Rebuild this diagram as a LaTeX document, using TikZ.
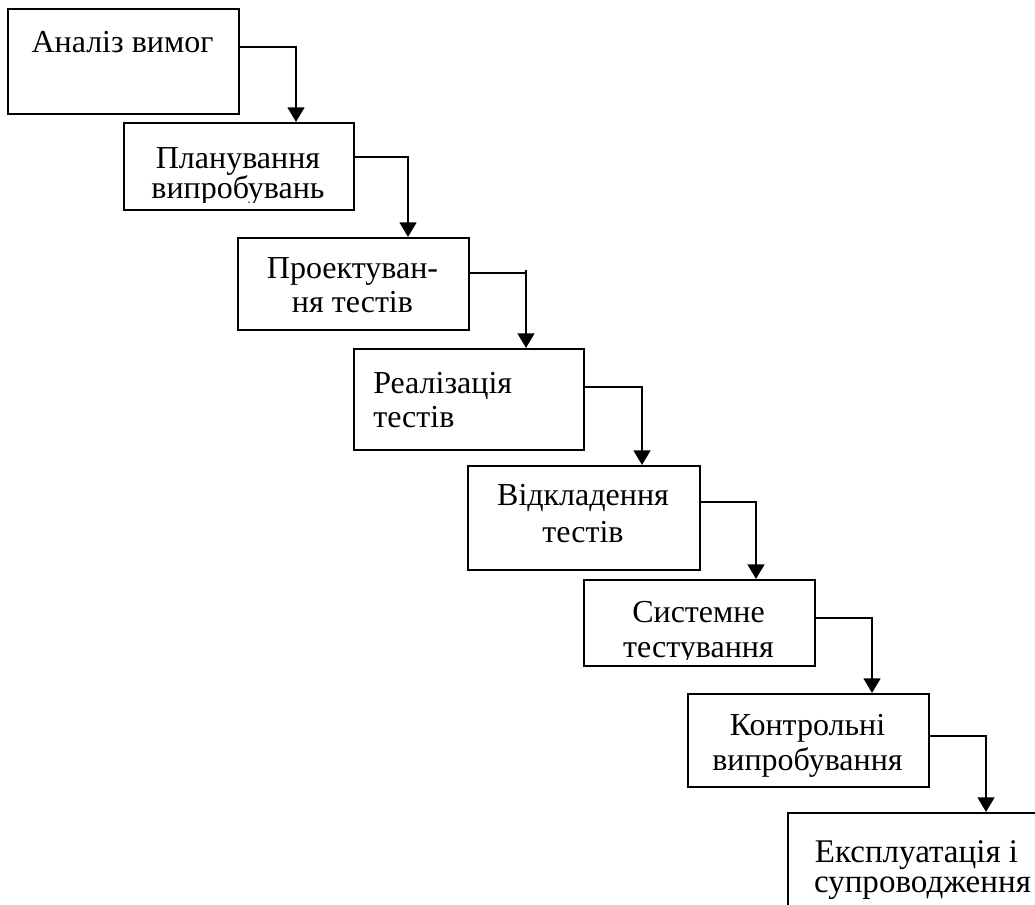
\documentclass[tikz,border=0pt]{standalone}
\usepackage{fontspec}
\setmainfont{Liberation Serif}
\usetikzlibrary{arrows.meta}
\begin{document}
\begin{tikzpicture}[x=0.75pt,y=-0.75pt,
  box/.style={draw,line width=1.6pt,rectangle,inner sep=0pt,anchor=north west},
  lbl/.style={inner sep=0pt,anchor=base,font=\fontsize{24}{28}\selectfont},
  lbll/.style={inner sep=0pt,anchor=base west,font=\fontsize{24}{28}\selectfont},
  lblbig/.style={inner sep=0pt,anchor=base,font=\fontsize{24.8}{28}\selectfont},
  conn/.style={line width=1.9pt},
  arr/.style={line width=1.9pt,-{Triangle[width=12.5pt,length=11pt]}}]
\useasboundingbox (0,0) rectangle (1035,904);
\clip (0,0) rectangle (1035,904);
\fill[white] (0,0) rectangle (1035,904);
% boxes
\node[box,minimum width=173.25pt,minimum height=78.75pt] (b1) at (7,8) {};
\node[box,minimum width=172.5pt,minimum height=65.25pt] (b2) at (123,122) {};
\node[box,minimum width=173.25pt,minimum height=69pt] (b3) at (237,237) {};
\node[box,minimum width=172.5pt,minimum height=75.75pt] (b4) at (353,348) {};
\node[box,minimum width=174pt,minimum height=78pt] (b5) at (467,465) {};
\node[box,minimum width=173.25pt,minimum height=64.5pt] (b6) at (583,579) {};
\node[box,minimum width=180.75pt,minimum height=69.75pt] (b7) at (687,693) {};
\node[box,minimum width=195pt,minimum height=82.5pt] (b8) at (787,812) {};
% labels
\node[lbl] (t1) at (122.5,52) {Аналіз вимог};
\node[lbl] (t2a) at (238,168) {Планування};
\begin{scope}
\clip (123,122) rectangle (353,202);
\node[lbl] (t2b) at (238,198) {випробувань};
\end{scope}
\node[lbl] (t3a) at (352.5,278) {Проектуван-};
\node[lbl] (t3b) at (352.5,312) {ня тестів};
\node[lbll] (t4a) at (373,393) {Реалізація};
\node[lbll] (t4b) at (373,427) {тестів};
\node[lbl] (t5a) at (583,505) {Відкладення};
\node[lbl] (t5b) at (583,542) {тестів};
\node[lbl] (t6a) at (698.5,622) {Системне};
\begin{scope}
\clip (583,579) rectangle (814,659);
\node[lbl] (t6b) at (698.5,657) {тестування};
\end{scope}
\node[lbl] (t7a) at (807.5,735) {Контрольні};
\node[lbl] (t7b) at (807.5,770) {випробування};
\node[lblbig] (t8a) at (916.5,862) {Експлуатація і};
\node[lblbig] (t8b) at (922.5,892) {супроводження};
% connector corners
\coordinate (k1) at (296,47);
\coordinate (k2) at (408,157);
\coordinate (k3) at (526,273);
\coordinate (k3t) at (526,270);
\coordinate (k4) at (642,387);
\coordinate (k5) at (756,502);
\coordinate (k6) at (872,618);
\coordinate (k7) at (986,736);
% connectors
\draw[arr] (b1.east |- k1) -- (k1) -- (k1 |- b2.north);
\draw[arr] (b2.east |- k2) -- (k2) -- (k2 |- b3.north);
\draw[conn] (b3.east |- k3) -- (k3);
\draw[arr] (k3t) -- (k3t |- b4.north);
\draw[arr] (b4.east |- k4) -- (k4) -- (k4 |- b5.north);
\draw[arr] (b5.east |- k5) -- (k5) -- (k5 |- b6.north);
\draw[arr] (b6.east |- k6) -- (k6) -- (k6 |- b7.north);
\draw[arr] (b7.east |- k7) -- (k7) -- (k7 |- b8.north);
\end{tikzpicture}
\end{document}
